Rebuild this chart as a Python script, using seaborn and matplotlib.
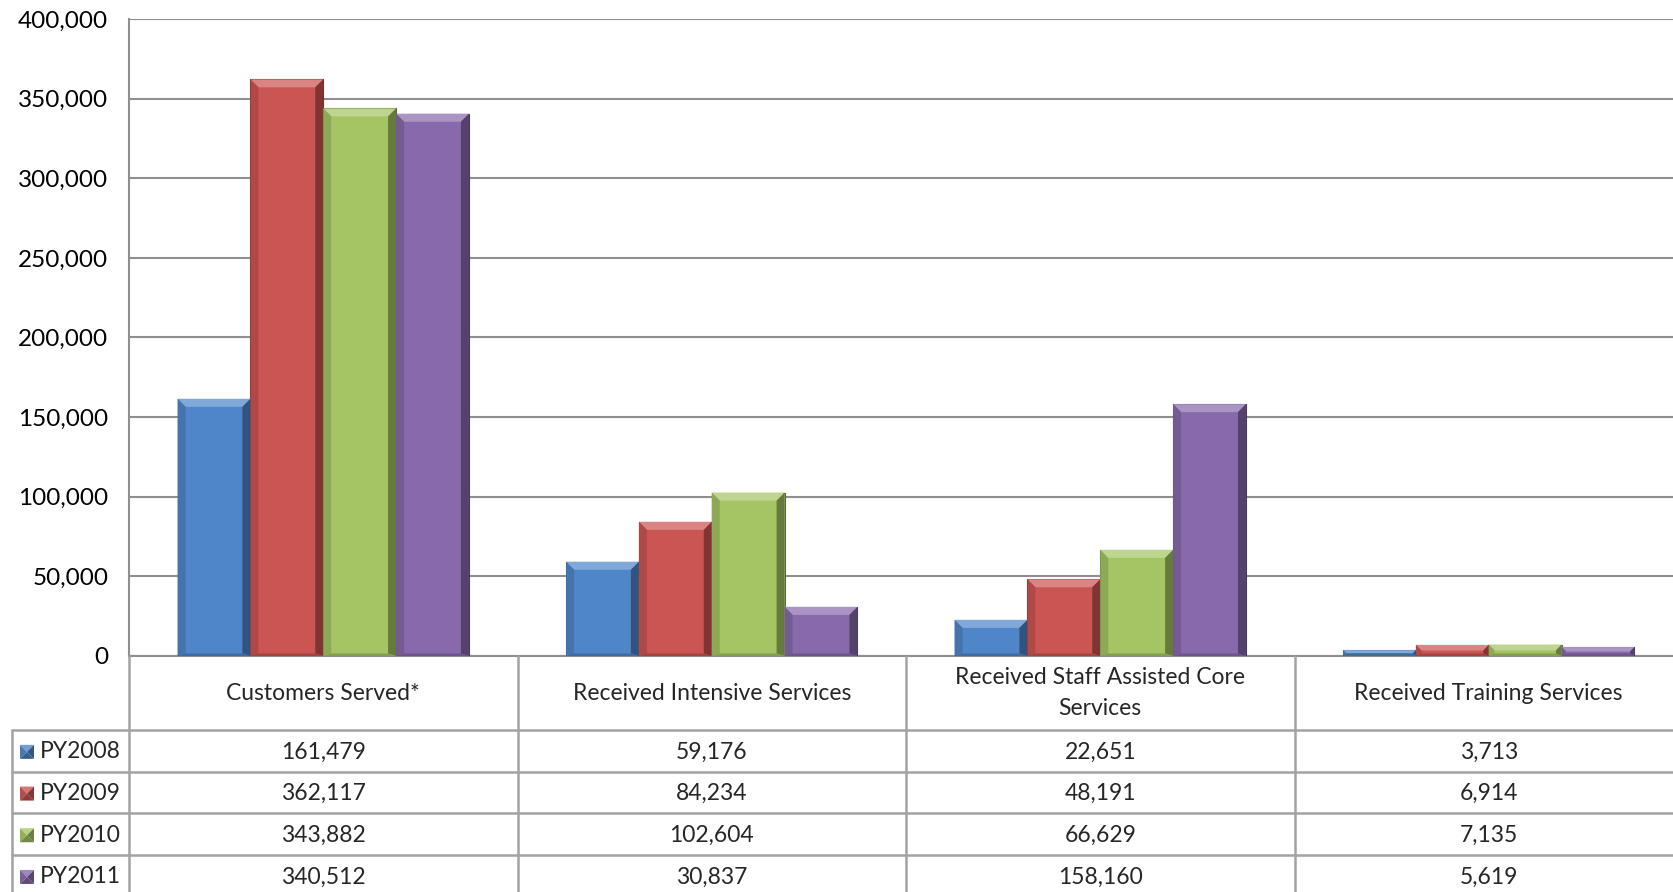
import numpy as np
import pandas as pd
import matplotlib
matplotlib.use("Agg")
import matplotlib.pyplot as plt
import seaborn as sns
from matplotlib.lines import Line2D
from matplotlib.patches import Polygon
from matplotlib.colors import to_rgb
from matplotlib.ticker import FuncFormatter

categories = ["Customers Served*", "Received Intensive Services",
              "Received Staff Assisted Core\nServices", "Received Training Services"]
years = ["PY2008", "PY2009", "PY2010", "PY2011"]
py2008 = [161479, 59176, 22651, 3713]
py2009 = [362117, 84234, 48191, 6914]
py2010 = [343882, 102604, 66629, 7135]
py2011 = [340512, 30837, 158160, 5619]
series = [py2008, py2009, py2010, py2011]
colors = ["#4F86C9", "#CB5553", "#A5C463", "#886AAC"]

W, H = 1673, 892
GRID = "#8F8F8F"
TABLE = "#A3A3A3"
FS = 16.5


def mix(c, other, t):
    c = np.array(to_rgb(c))
    o = np.array(to_rgb(other))
    return tuple(c * (1 - t) + o * t)


rows = []
for year, vals in zip(years, series):
    for cat, v in zip(categories, vals):
        rows.append({"category": cat, "year": year, "value": v})
df = pd.DataFrame(rows)

sns.set_style("white")
plt.rcParams["font.family"] = ["Lato", "DejaVu Sans"]

fig = plt.figure(figsize=(W / 100, H / 100), dpi=100)
# plot area in pixels: left 129, top 19, zero line 656, category width ~388.5
ax = fig.add_axes([129 / W, 1 - 656 / H, 4 * 388.5 / W, (656 - 19) / H])

sns.barplot(data=df, x="category", y="value", hue="year", palette=colors,
            width=0.75, saturation=1, legend=False, ax=ax, zorder=3)

ax.set_ylim(0, 400000)
ax.set_xlim(-0.5, 3.5)
ax.set_yticks(np.arange(0, 400001, 50000))
ax.yaxis.set_major_formatter(FuncFormatter(lambda v, p: f"{int(v):,}"))
ax.grid(axis="y", color=GRID, lw=1.5, zorder=0)
ax.set_axisbelow(True)
ax.set_xlabel("")
ax.set_ylabel("")
ax.set_xticks([])
for s in ["top", "right"]:
    ax.spines[s].set_visible(False)
ax.spines["left"].set_color(GRID)
ax.spines["left"].set_linewidth(1.5)
ax.spines["bottom"].set_color(GRID)
ax.spines["bottom"].set_linewidth(1.5)
ax.tick_params(axis="y", length=9, width=1.5, color=GRID, labelsize=17.5, pad=6,
               labelcolor="black")

# bevel effect on bars
fig.canvas.draw()
inv = ax.transData.inverted()
for patch in list(ax.patches):
    x, y0 = patch.get_x(), patch.get_y()
    w, h = patch.get_width(), patch.get_height()
    if w <= 0 or h <= 0:
        continue
    col = patch.get_facecolor()
    patch.set_edgecolor(mix(col, "black", 0.45))
    patch.set_linewidth(0.8)
    (px0, py0) = ax.transData.transform((x, y0))
    (px1, py1) = ax.transData.transform((x + w, y0 + h))
    b = min(8.0, (py1 - py0) / 2, (px1 - px0) / 2)
    bb = min(2.5, b)
    outer = [(px0, py0), (px1, py0), (px1, py1), (px0, py1)]
    inner = [(px0 + b, py0 + bb), (px1 - b, py0 + bb), (px1 - b, py1 - b), (px0 + b, py1 - b)]
    faces = [
        ([outer[3], outer[2], inner[2], inner[3]], mix(col, "white", 0.28)),  # top
        ([outer[1], outer[2], inner[2], inner[1]], mix(col, "black", 0.38)),  # right
        ([outer[0], outer[3], inner[3], inner[0]], mix(col, "black", 0.14)),  # left
        ([outer[0], outer[1], inner[1], inner[0]], mix(col, "black", 0.20)),  # bottom
    ]
    for pts, fc in faces:
        data_pts = inv.transform(pts)
        ax.add_patch(Polygon(data_pts, closed=True, facecolor=fc, edgecolor="none",
                             zorder=4))


def fx(px):
    return px / W


def fy(py):
    return 1 - py / H


def hline(x0, x1, y):
    fig.add_artist(Line2D([fx(x0), fx(x1)], [fy(y), fy(y)], color=TABLE, lw=1.8,
                          transform=fig.transFigure))


def vline(x, y0, y1):
    fig.add_artist(Line2D([fx(x), fx(x)], [fy(y0), fy(y1)], color=TABLE, lw=1.8,
                          transform=fig.transFigure))


# data table under the chart
bounds = [ax.transData.transform((i - 0.5, 0))[0] for i in range(len(categories) + 1)]
centers = [ax.transData.transform((i, 0))[0] for i in range(len(categories))]
left_px = 12
zero_y = 656
header_bottom = 730
row_h = 41.7
row_tops = [header_bottom + i * row_h for i in range(len(years))]

for b in bounds:
    vline(b, zero_y, H)
vline(left_px, header_bottom, H)
for y in row_tops:
    hline(left_px, W, y)

for cx, cat in zip(centers, categories):
    fig.text(fx(cx), fy((zero_y + header_bottom) / 2), cat, ha="center", va="center",
             fontsize=FS, linespacing=1.6)

for i, (year, vals, col) in enumerate(zip(years, series, colors)):
    cy = row_tops[i] + row_h / 2 + 1
    # legend key with bevel
    k0, k1 = 20, 34
    ky0, ky1 = cy - 7, cy + 7
    o = [(k0, ky1), (k1, ky1), (k1, ky0), (k0, ky0)]
    c = ((k0 + k1) / 2, cy)
    kfaces = [
        ([o[3], o[2], c], mix(col, "white", 0.2)),
        ([o[1], o[2], c], mix(col, "black", 0.35)),
        ([o[0], o[3], c], mix(col, "black", 0.1)),
        ([o[0], o[1], c], mix(col, "black", 0.3)),
    ]
    for pts, fc in kfaces:
        fig.add_artist(Polygon([(fx(px), fy(py)) for px, py in pts], closed=True,
                               facecolor=fc, edgecolor="none", transform=fig.transFigure))
    fig.text(fx(40), fy(cy), year, ha="left", va="center", fontsize=FS)
    for cx, v in zip(centers, vals):
        fig.text(fx(cx), fy(cy), f"{v:,}", ha="center", va="center", fontsize=FS)

fig.savefig("out.png", dpi=100)
